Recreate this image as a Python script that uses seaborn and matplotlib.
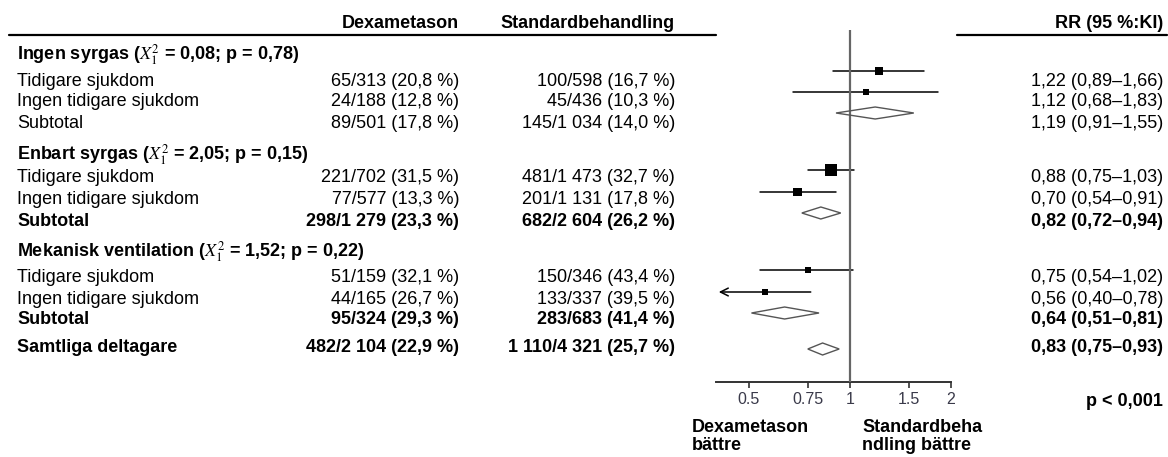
import numpy as np
import pandas as pd
import matplotlib
matplotlib.use("Agg")
import matplotlib.pyplot as plt
import seaborn as sns

# --- data ---
group_names = ["Ingen syrgas", "Enbart syrgas", "Mekanisk ventilation"]
group_chi2 = ["0,08", "2,05", "1,52"]
group_p = ["0,78", "0,15", "0,22"]

row_labels = ["Tidigare sjukdom", "Ingen tidigare sjukdom", "Subtotal",
              "Tidigare sjukdom", "Ingen tidigare sjukdom", "Subtotal",
              "Tidigare sjukdom", "Ingen tidigare sjukdom", "Subtotal",
              "Samtliga deltagare"]
row_bold = [False, False, False, False, False, True, False, False, True, True]
row_is_total = [False, False, True, False, False, True, False, False, True, True]

dexa_events = [65, 24, 89, 221, 77, 298, 51, 44, 95, 482]
dexa_n = [313, 188, 501, 702, 577, 1279, 159, 165, 324, 2104]
dexa_pct = [20.8, 12.8, 17.8, 31.5, 13.3, 23.3, 32.1, 26.7, 29.3, 22.9]
std_events = [100, 45, 145, 481, 201, 682, 150, 133, 283, 1110]
std_n = [598, 436, 1034, 1473, 1131, 2604, 346, 337, 683, 4321]
std_pct = [16.7, 10.3, 14.0, 32.7, 17.8, 26.2, 43.4, 39.5, 41.4, 25.7]

rr = [1.22, 1.12, 1.19, 0.88, 0.70, 0.82, 0.75, 0.56, 0.64, 0.83]
rr_lo = [0.89, 0.68, 0.91, 0.75, 0.54, 0.72, 0.54, 0.40, 0.51, 0.75]
rr_hi = [1.66, 1.83, 1.55, 1.03, 0.91, 0.94, 1.02, 0.78, 0.81, 0.93]

x_ticks = [0.5, 0.75, 1, 1.5, 2]
x_ticklabels = ["0.5", "0.75", "1", "1.5", "2"]

# --- layout (pixel coords, y down) ---
W, H = 1168, 457
header_y = 24
group_y = [55, 155, 252]
text_y = [81, 102, 123, 178, 200, 222, 278, 299, 320, 348]
forest_y = [71, 92, 113, 170, 192, 213, 270, 292, 313, 349]
square_px = [8, 6, 0, 12, 9, 0, 6, 6, 0, 0]
x_label, x_dexa, x_std, x_rr = 17, 459, 675, 1163
FS = 13


def fmt_n(v):
    return f"{v:,}".replace(",", " ")


def fmt_d(v, nd=1):
    return f"{v:.{nd}f}".replace(".", ",")


sns.set_theme(style="white")
plt.rcParams['font.family'] = ['Liberation Sans', 'DejaVu Sans']
plt.rcParams['mathtext.fontset'] = 'stix'
plt.rcParams['text.color'] = 'black'

fig = plt.figure(figsize=(W / 100, H / 100), dpi=100)
ax0 = fig.add_axes([0, 0, 1, 1])
ax0.set_xlim(0, W)
ax0.set_ylim(H, 0)
ax0.axis("off")


def put(x, y, s, ha="left", bold=False):
    ax0.text(x, y, s, ha=ha, va="center", fontsize=FS, color="black",
             fontweight="bold" if bold else "normal")


# header
put(x_dexa, header_y, "Dexametason", "right", True)
put(x_std, header_y, "Standardbehandling", "right", True)
put(x_rr, header_y, "RR (95 %:KI)", "right", True)
ax0.plot([9, 716], [35, 35], color="black", lw=1.6)
ax0.plot([957, 1167], [35, 35], color="black", lw=1.6)

for gname, chi, p, gy in zip(group_names, group_chi2, group_p, group_y):
    put(x_label, gy, f"{gname} ($X_1^2$ = {chi}; p = {p})", bold=True)

for i, lab in enumerate(row_labels):
    b = row_bold[i]
    y = text_y[i]
    put(x_label, y, lab, bold=b)
    put(x_dexa, y, f"{fmt_n(dexa_events[i])}/{fmt_n(dexa_n[i])} ({fmt_d(dexa_pct[i])} %)", "right", b)
    put(x_std, y, f"{fmt_n(std_events[i])}/{fmt_n(std_n[i])} ({fmt_d(std_pct[i])} %)", "right", b)
    put(x_rr, y, f"{fmt_d(rr[i], 2)} ({fmt_d(rr_lo[i], 2)}\u2013{fmt_d(rr_hi[i], 2)})", "right", b)

put(x_rr, 402, "p < 0,001", "right", True)
put(692, 428, "Dexametason", bold=True)
put(692, 446, "bättre", bold=True)
put(862, 428, "Standardbeha", bold=True)
put(862, 446, "ndling bättre", bold=True)

# --- forest plot ---
top, bottom, left, right = 30, 382, 716, 951
ax = fig.add_axes([left / W, 1 - bottom / H, (right - left) / W, (bottom - top) / H])
ax.set_facecolor("none")
ax.set_xscale("log")
ax.set_xlim(0.4, 2.0)
ax.set_ylim(bottom, top)
for s in ["top", "left", "right"]:
    ax.spines[s].set_visible(False)
ax.spines["bottom"].set_color("#333333")
ax.spines["bottom"].set_linewidth(1.4)
ax.set_yticks([])
ax.set_xticks(x_ticks)
ax.set_xticklabels(x_ticklabels)
ax.minorticks_off()
ax.tick_params(axis="x", bottom=True, length=4, width=1.2, color="#333333",
               labelsize=11.5, labelcolor="#3a3a4a", pad=3)

ax.axvline(1, color="#666666", lw=1.6, zorder=3)

df = pd.DataFrame({"rr": rr, "lo": rr_lo, "hi": rr_hi, "y": forest_y,
                   "px": square_px, "total": row_is_total})
studies = df[~df["total"]]
for _, r in studies.iterrows():
    if r["lo"] <= 0.4:
        ax.annotate("", xy=(r["lo"], r["y"]), xytext=(r["hi"], r["y"]),
                    arrowprops=dict(arrowstyle="->", color="black", lw=1.1,
                                    mutation_scale=14), zorder=2)
    else:
        ax.plot([r["lo"], r["hi"]], [r["y"], r["y"]], color="black", lw=1.1, zorder=2)

sns.scatterplot(data=studies, x="rr", y="y", marker="s", color="black",
                s=(studies["px"] / 1.389) ** 2, linewidth=0, legend=False,
                ax=ax, zorder=4)

for _, r in df[df["total"]].iterrows():
    ax.fill([r["lo"], r["rr"], r["hi"], r["rr"]],
            [r["y"], r["y"] - 6, r["y"], r["y"] + 6],
            facecolor="none", edgecolor="#555555", lw=1.0, zorder=4)

ax.set_xlabel("")
ax.set_ylabel("")

fig.savefig("out.png", dpi=100)
